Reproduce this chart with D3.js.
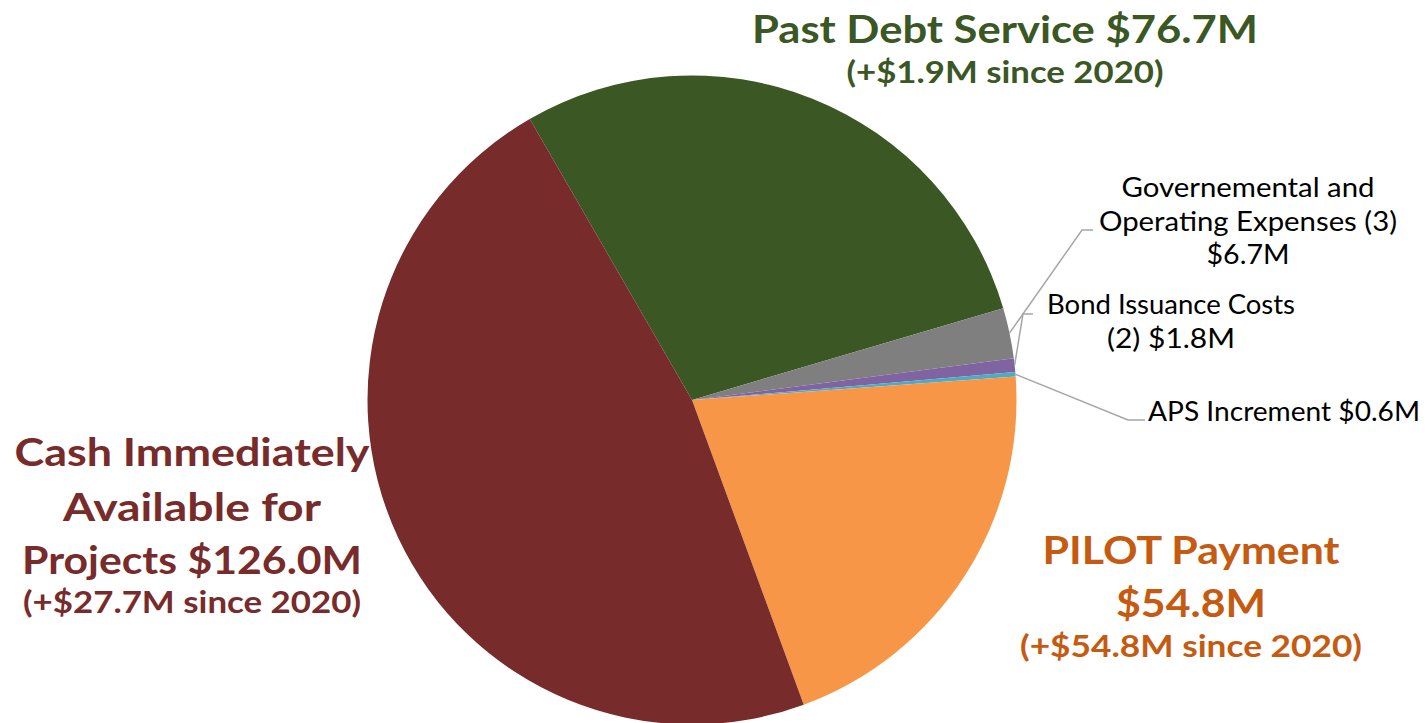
<!DOCTYPE html>
<html>
<head>
<meta charset="utf-8">
<script src="https://cdn.jsdelivr.net/npm/d3@7"></script>
<style>
  html, body { margin: 0; padding: 0; background: #ffffff; }
  svg { display: block; }
  text { font-family: "Lato", "Open Sans", sans-serif; }
</style>
</head>
<body>
<svg id="chart" width="1427" height="723"></svg>
<script>
// Uses of funds, in $M
const categories = [
  "Past Debt Service",
  "Governemental and Operating Expenses (3)",
  "Bond Issuance Costs (2)",
  "APS Increment",
  "PILOT Payment",
  "Cash Immediately Available for Projects"
];
const values = [76.7, 6.7, 1.8, 0.6, 54.8, 126.0];
const changeSince2020 = [1.9, null, null, null, 54.8, 27.7];
const sliceColors = ["#3a5724", "#7f7f7f", "#8064a2", "#4bacc6", "#f79646", "#772b2b"];
const labelColors = ["#3a5724", "#000000", "#000000", "#000000", "#c55a11", "#772b2b"];

const fmt = v => "$" + v.toFixed(1) + "M";
const chg = v => "(+" + fmt(v) + " since 2020)";

// Label lines per slice
const labelLines = [
  ["Past Debt Service " + fmt(values[0]), chg(changeSince2020[0])],
  ["Governemental and", "Operating Expenses (3)", fmt(values[1])],
  ["Bond Issuance Costs", "(2) " + fmt(values[2])],
  ["APS Increment " + fmt(values[3])],
  ["PILOT Payment", fmt(values[4]), chg(changeSince2020[4])],
  ["Cash Immediately", "Available for", "Projects " + fmt(values[5]), chg(changeSince2020[5])]
];

const svg = d3.select("#chart");
const cx = 692, cy = 400, R = 324.5;

const pie = d3.pie().sort(null)
  .startAngle(-30 * Math.PI / 180)
  .endAngle(330 * Math.PI / 180);
const arcs = pie(values);
const arc = d3.arc().innerRadius(0).outerRadius(R);

const g = svg.append("g").attr("transform", `translate(${cx},${cy})`);
g.selectAll("path.slice")
  .data(arcs)
  .join("path")
  .attr("class", "slice")
  .attr("d", arc)
  .attr("fill", (d, i) => sliceColors[i]);

// Label placement: x center, baselines, font sizes, set widths per line
const labelLayout = [
  { x: 1005, ys: [43, 83], sizes: [38, 30], widths: [506, 317], weight: 700 },
  { x: 1248, ys: [197, 231, 264], sizes: [26, 26, 26], widths: [253, 298, 83], weight: 400 },
  { x: 1171, ys: [314, 348], sizes: [26, 26], widths: [248, 128], weight: 400 },
  { x: 1284, ys: [421], sizes: [26], widths: [272], weight: 400 },
  { x: 1191, ys: [564, 617, 657], sizes: [39, 39, 30], widths: [297, 150, 342], weight: 700 },
  { x: 192, ys: [466, 521, 574, 613], sizes: [39, 39, 39, 30], widths: [355, 258, 340, 338], weight: 700 }
];

// Leader-line elbows for the small slices
const leaderEnds = {
  1: [[1082, 230], [1093, 230]],
  2: [[1023, 314], [1033, 314]],
  3: [[1128, 420], [1145, 420]]
};

Object.entries(leaderEnds).forEach(([k, pts]) => {
  const d = arcs[+k];
  const mid = (d.startAngle + d.endAngle) / 2;
  const start = [cx + R * Math.sin(mid), cy - R * Math.cos(mid)];
  svg.append("path")
    .attr("d", d3.line()([start, ...pts]))
    .attr("fill", "none")
    .attr("stroke", "#a6a6a6")
    .attr("stroke-width", 1.5);
});

labelLines.forEach((lines, i) => {
  const L = labelLayout[i];
  lines.forEach((s, j) => {
    svg.append("text")
      .attr("x", L.x)
      .attr("y", L.ys[j])
      .attr("text-anchor", "middle")
      .attr("fill", labelColors[i])
      .attr("font-weight", L.weight)
      .attr("font-size", L.sizes[j])
      .attr("textLength", L.widths[j])
      .attr("lengthAdjust", "spacingAndGlyphs")
      .text(s);
  });
});
</script>
</body>
</html>
